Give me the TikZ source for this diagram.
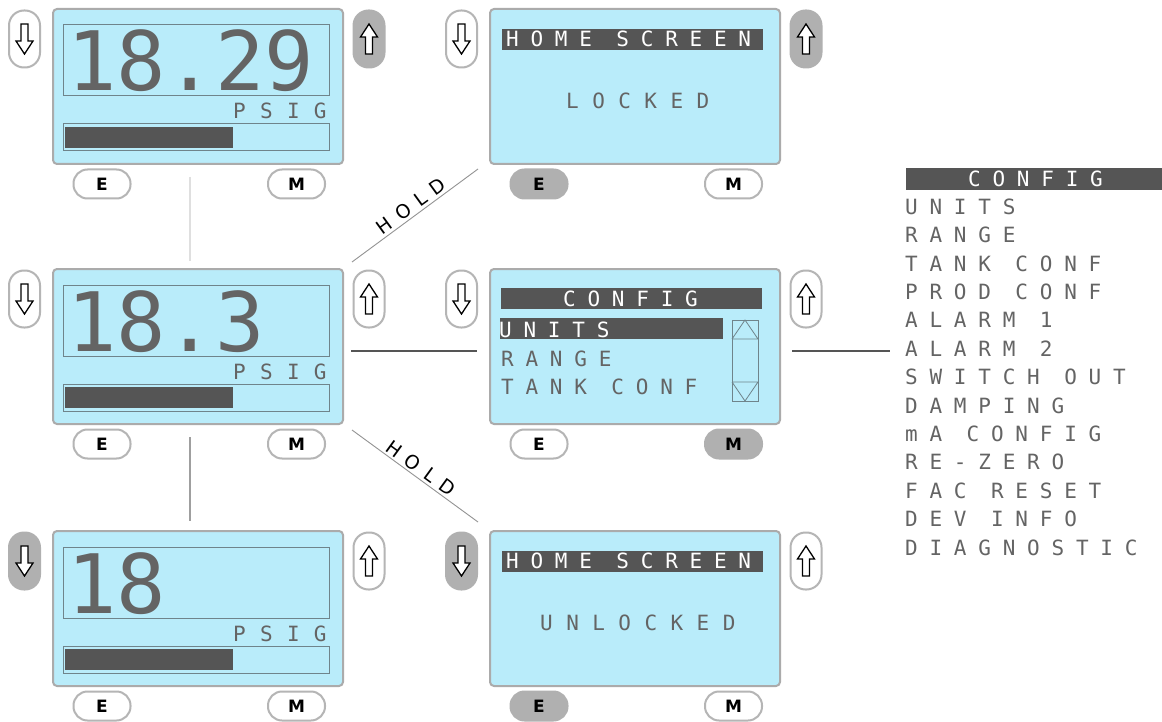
\documentclass[tikz,border=0pt]{standalone}
\usepackage{fontspec}
\setmainfont{DejaVu Sans}
\newfontfamily\lcdfont{DejaVu Sans Mono}[LetterSpace=56]
\newfontfamily\lcdwide{DejaVu Sans Mono}[LetterSpace=64]
\newfontfamily\lcdpsig{DejaVu Sans Mono}[LetterSpace=68]
\newfontfamily\bigfont{DejaVu Sans Mono}
\newfontfamily\holdfont{DejaVu Sans}[LetterSpace=45]
\definecolor{lcd}{HTML}{B9ECFA}
\definecolor{edge}{HTML}{ABABAB}
\definecolor{btnedge}{HTML}{B5B5B5}
\definecolor{btngrey}{HTML}{B0B0B0}
\definecolor{inkgrey}{HTML}{646464}
\definecolor{barfill}{HTML}{555555}
\definecolor{boxline}{HTML}{6F848B}
\tikzset{
  screen/.style={draw=edge, line width=2pt, fill=lcd, rounded corners=4pt,
    minimum width=290pt, minimum height=155pt, inner sep=0pt},
  side/.style={draw=btnedge, line width=2pt, fill=white, rounded corners=15pt,
    minimum width=31pt, minimum height=57pt, inner sep=0pt},
  fb/.style={draw=btnedge, line width=2pt, fill=white, rounded corners=14pt,
    minimum width=57pt, minimum height=29pt, inner sep=0pt,
    font=\fontsize{17}{17}\selectfont\bfseries},
  pressed/.style={fill=btngrey, draw=btngrey},
  arrowsty/.style={draw=black, fill=white, line width=1.3pt, line join=miter},
  lcdline/.style={draw=boxline, line width=1pt},
  bar/.style={fill=barfill},
  bignum/.style={anchor=base west, inner sep=0pt, text=inkgrey, text depth=0pt,
    font=\bigfont\fontsize{82}{82}\selectfont},
  lcdtxt/.style={anchor=base west, inner sep=0pt, text=inkgrey,
    font=\lcdfont\fontsize{21}{21}\selectfont},
  invtxt/.style={lcdtxt, text=white},
  widetxt/.style={lcdtxt, font=\lcdwide\fontsize{21}{21}\selectfont},
  holdtxt/.style={inner sep=0pt, text=black, font=\holdfont\fontsize{19}{19}\selectfont},
  holdline/.style={draw=gray!85, line width=0.9pt},
  link/.style={draw=barfill, line width=1.2pt},
}
\newcommand\lcdpanel[7]{%
  \begin{scope}[shift={(#2,#3)}]
    \node[screen, anchor=north west] (#1) at (0,0) {};
    \node[side,#4] (#1dn) at (-27.5,31) {};
    \node[side,#5] (#1up) at (317,31) {};
    \node[fb,#6] (#1E) at (50,176) {E};
    \node[fb,#7] (#1M) at (244.5,176) {M};
  \end{scope}
  \draw[arrowsty, shift={(#1dn.center)}] (-3.5,-15) -- (3.5,-15) -- (3.5,2) -- (8.5,2) -- (0,15) -- (-8.5,2) -- (-3.5,2) -- cycle;
  \draw[arrowsty, shift={(#1up.center)}] (-3.5,15) -- (3.5,15) -- (3.5,-2) -- (8.5,-2) -- (0,-15) -- (-8.5,-2) -- (-3.5,-2) -- cycle;
}
\newcommand\readout[4]{%
  \begin{scope}[shift={(#2,#3)}]
    \draw[lcdline] (11,17) rectangle (277,88);
    \node[bignum] (#1num) at (15,83) {#4};
    \node[lcdtxt, font=\lcdpsig\fontsize{21}{21}\selectfont] (#1unit) at (181,111) {PSIG};
    \draw[lcdline] (11,116) rectangle (277,143);
    \fill[bar] (13,119) rectangle (181,140);
  \end{scope}
}
\newcommand\homescreen[5]{%
  \begin{scope}[shift={(#2,#3)}]
    \fill[bar] (13,21) rectangle (274,42);
    \node[invtxt] (#1head) at (17,38.5) {HOME SCREEN};
    \node[widetxt] (#1state) at (#5,100.5) {#4};
  \end{scope}
}
\begin{document}
\begin{tikzpicture}[x=1pt, y=-1pt]
\useasboundingbox[fill=white] (0,0) rectangle (1162,722);

% panels
\lcdpanel{pa}{52}{8}{}{pressed}{}{}
\lcdpanel{pb}{489}{8}{}{pressed}{pressed}{}
\lcdpanel{pc}{52}{268}{}{}{}{}
\lcdpanel{pd}{489}{268}{}{}{}{pressed}
\lcdpanel{pe}{52}{530}{pressed}{}{}{}
\lcdpanel{pf}{489}{530}{pressed}{}{pressed}{}

\readout{pa}{52}{8}{18.29}
\readout{pc}{52}{268}{18.3}
\readout{pe}{52}{530}{18}

\homescreen{pb}{489}{8}{LOCKED}{77}
\homescreen{pf}{489}{530}{UNLOCKED}{51}

% config panel content
\begin{scope}[shift={(489,268)}]
  \fill[bar] (12,20) rectangle (273,41);
  \node[invtxt] (pdhead) at (74,38) {CONFIG};
  \fill[bar] (11,50) rectangle (234,71);
  \node[invtxt] (pdunits) at (10,69) {UNITS};
  \node[lcdtxt] (pdrange) at (12,98) {RANGE};
  \node[lcdtxt] (pdtank) at (12,126) {TANK CONF};
  \draw[lcdline, line width=0.8pt] (243,52) rectangle (269,133);
  \draw[lcdline, line width=0.8pt] (243,71) -- (269,71) (243,71) -- (256,52) -- (269,71);
  \draw[lcdline, line width=0.8pt] (243,114) -- (269,114) (243,114) -- (256,133) -- (269,114);
\end{scope}

% right menu list
\fill[bar] (906,168) rectangle (1162,190);
\node[invtxt] (menuhead) at (968,187) {CONFIG};
\foreach \t [count=\i from 0] in {UNITS,RANGE,TANK CONF,PROD CONF,ALARM 1,ALARM 2,SWITCH OUT,DAMPING,mA CONFIG,RE-ZERO,FAC RESET,DEV INFO,DIAGNOSTIC}
  \node[lcdtxt] (menu\i) at (905,214.3+28.4*\i) {\t};

% connectors
\coordinate (v1a) at (190,177); \coordinate (v1b) at (190,261);
\draw[draw=gray!25, line width=1.5pt] (v1a) -- (v1b);
\coordinate (v2a) at (190,437); \coordinate (v2b) at (190,521);
\draw[draw=gray!75, line width=1.5pt] (v2a) -- (v2b);
\coordinate (h1a) at (351,351); \coordinate (h1b) at (477,351);
\draw[link] (h1a) -- (h1b);
\coordinate (h2a) at (792,351); \coordinate (h2b) at (890,351);
\draw[link] (h2a) -- (h2b);

\coordinate (d1a) at (352,262); \coordinate (d1b) at (478,169);
\draw[holdline] (d1a) -- (d1b);
\node[holdtxt, rotate=36] (hold1) at (411,206) {HOLD};
\coordinate (d2a) at (352,430); \coordinate (d2b) at (478,522);
\draw[holdline] (d2a) -- (d2b);
\node[holdtxt, rotate=-36] (hold2) at (421,468) {HOLD};
\end{tikzpicture}
\end{document}
